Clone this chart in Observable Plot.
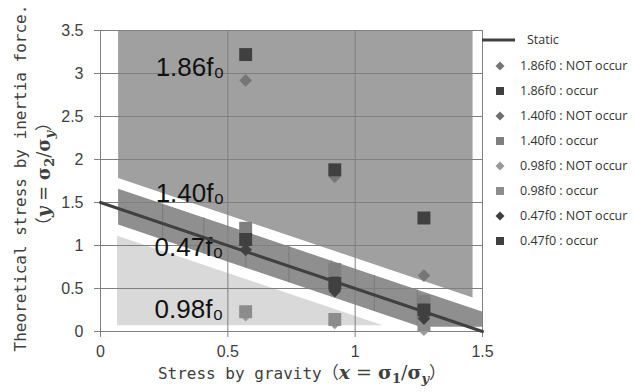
<!DOCTYPE html>
<html><head><meta charset="utf-8">
<script src="https://cdn.jsdelivr.net/npm/d3@7"></script>
<script src="https://cdn.jsdelivr.net/npm/@observablehq/plot@0.6"></script>
<style>
body{margin:0;background:#fff}
#chart{position:relative;width:635px;height:392px;overflow:hidden}
</style>
</head><body><div id="chart"></div>
<script>
// ---- data ----
const xTicks = [0, 0.5, 1, 1.5];
const yTicks = [0, 0.5, 1, 1.5, 2, 2.5, 3, 3.5];
const xPositions = [0.57, 0.92, 1.27];

const seriesNames = ["1.86f0 : NOT occur","1.86f0 : occur","1.40f0 : NOT occur","1.40f0 : occur",
                     "0.98f0 : NOT occur","0.98f0 : occur","0.47f0 : NOT occur","0.47f0 : occur"];
const seriesSymbols = ["diamond2","square","diamond2","square","diamond2","square","diamond2","square"];
const seriesColors = ["#767676","#404040","#6e6e6e","#7f7f7f","#9a9a9a","#8c8c8c","#404040","#404040"];
const f186NotOccur = [2.92, 1.80, 0.65];
const f186Occur    = [3.22, 1.88, 1.32];
const f140NotOccur = [1.12, 0.62, 0.28];
const f140Occur    = [1.20, 0.72, 0.35];
const f098NotOccur = [0.19, 0.10, 0.02];
const f098Occur    = [0.23, 0.14, 0.08];
const f047NotOccur = [0.95, 0.47, 0.15];
const f047Occur    = [1.07, 0.56, 0.25];
const seriesValues = [f186NotOccur, f186Occur, f140NotOccur, f140Occur, f098NotOccur, f098Occur, f047NotOccur, f047Occur];

const staticX = [0, 1.5];
const staticY = [1.5, 0];

// shaded regions (vertices)
const topRegionX = [0.071, 1.463];
const topRegionLow = [1.78, 0.39];
const topRegionHigh = [3.5, 3.5];
const bandX = [0.071, 1.258, 1.5];
const bandLow = [1.237, 0.05, 0.05];
const bandHigh = [1.655, 0.468, 0.226];
const lightX = [0.067, 1.11];
const lightLow = [0.066, 0.066];
const lightHigh = [1.109, 0.066];
const bandDividerX = [0.244, 0.406, 0.571, 0.740, 0.906, 1.075, 1.244];

const regionLabels = ["1.86f₀", "1.40f₀", "0.47f₀", "0.98f₀"];
const regionLabelX = [0.2165, 0.2165, 0.2125, 0.2125];
const regionLabelY = [3.07, 1.60, 0.98, 0.255];

// ---- build ----
const rows = (xs, lo, hi) => xs.map((x, i) => ({x, lo: lo[i], hi: hi[i]}));
const bandLowAt = d3.scaleLinear(bandX, bandLow);
const bandHighAt = d3.scaleLinear(bandX, bandHigh);

const pointMarks = seriesValues.map((vals, k) =>
  Plot.dot(xPositions.map((x, i) => ({x, y: vals[i]})), {
    x: "x", y: "y", symbol: seriesSymbols[k],
    r: seriesSymbols[k] === "square" ? 7.3 : 5.7,
    fill: seriesColors[k], stroke: "none"
  })
);

const tickFont = "Liberation Sans, Arial, sans-serif";
const plot = Plot.plot({
  width: 635, height: 392,
  marginLeft: 100, marginRight: 153, marginTop: 30, marginBottom: 61,
  x: {domain: [0, 1.5]},
  y: {domain: [0, 3.5]},
  style: {fontFamily: tickFont, fontSize: "16px", background: "#fff", color: "#404040"},
  marks: [
    Plot.areaY(rows(topRegionX, topRegionLow, topRegionHigh), {x: "x", y1: "lo", y2: "hi", fill: "#a0a0a0"}),
    Plot.areaY(rows(bandX, bandLow, bandHigh), {x: "x", y1: "lo", y2: "hi", fill: "#8f8f8f"}),
    Plot.areaY(rows(lightX, lightLow, lightHigh), {x: "x", y1: "lo", y2: "hi", fill: "#d9d9d9"}),
    Plot.ruleX(bandDividerX, {x: d => d, y1: d => bandLowAt(d), y2: d => bandHighAt(d), stroke: "#7a7a7a", strokeWidth: 1}),
    Plot.gridX(xTicks, {stroke: "#7f7f7f", strokeOpacity: 1}),
    Plot.gridY(yTicks, {stroke: "#7f7f7f", strokeOpacity: 1}),
    Plot.axisX(xTicks, {tickFormat: d => String(d), tickSize: 6, tickPadding: 8, stroke: "#7f7f7f", fill: "#404040", label: null, fontSize: 16}),
    Plot.axisY(yTicks, {tickFormat: d => String(d), tickSize: 6, tickPadding: 11, stroke: "#7f7f7f", fill: "#404040", label: null, fontSize: 16}),
    Plot.text(regionLabels.map((t, i) => ({t, x: regionLabelX[i], y: regionLabelY[i]})), {
      x: "x", y: "y", text: "t", textAnchor: "start", fontSize: 26, fill: "#111",
      fontFamily: "Liberation Sans, Arial, sans-serif"
    }),
    Plot.line(staticX.map((x, i) => ({x, y: staticY[i]})), {x: "x", y: "y", stroke: "#404040", strokeWidth: 3}),
    ...pointMarks
  ]
});
document.getElementById("chart").appendChild(plot);

// ---- axis titles ----
const svg = d3.select(plot);
const serif = "DejaVu Serif, Liberation Serif, serif";
const mono = "DejaVu Sans Mono, Liberation Mono, monospace";
function mathSpans(sel, v) {
  sel.append("tspan").text("（").style("font-family", "Noto Sans CJK JP").style("font-size", "17px");
  sel.append("tspan").text(v).style("font-family", serif).style("font-style", "italic").style("font-weight", "bold");
  sel.append("tspan").text(" = ").style("font-family", serif);
  sel.append("tspan").text("σ").style("font-family", serif).style("font-weight", "bold");
  sel.append("tspan").text(v === "x" ? "1" : "2").style("font-family", serif).style("font-weight", "bold").style("font-size", "13px").attr("dy", 4);
  sel.append("tspan").text("/").style("font-family", serif).attr("dy", -4);
  sel.append("tspan").text("σ").style("font-family", serif).style("font-weight", "bold");
  sel.append("tspan").text("y").style("font-family", serif).style("font-weight", "bold").style("font-style", "italic").style("font-size", "13px").attr("dy", 4);
  sel.append("tspan").text("）").style("font-family", "Noto Sans CJK JP").style("font-size", "17px").attr("dy", -4);
}
const xt = svg.append("text").attr("x", 302).attr("y", 379).attr("text-anchor", "middle")
  .attr("fill", "#404040").style("font-size", "19px");
xt.append("tspan").text("Stress by gravity").style("font-family", mono).style("font-size", "16px");
mathSpans(xt, "x");

svg.append("text").attr("transform", "translate(26,178) rotate(-90)").attr("text-anchor", "middle")
  .attr("fill", "#404040").style("font-family", mono).style("font-size", "16px")
  .text("Theoretical stress by inertia force.");
const yt2 = svg.append("text").attr("transform", "translate(50,174) rotate(-90)").attr("text-anchor", "middle")
  .attr("fill", "#404040").style("font-size", "18px");
mathSpans(yt2, "y");

// ---- legend ----
const lg = svg.append("g").style("font-family", "Open Sans, sans-serif").style("font-size", "12.5px").attr("text-anchor", "start");
lg.append("line").attr("x1", 482).attr("x2", 515).attr("y1", 40).attr("y2", 40).attr("stroke", "#404040").attr("stroke-width", 3);
lg.append("text").attr("x", 527).attr("y", 40).attr("dy", "0.35em").attr("text-anchor", "start").attr("fill", "#333").text("Static");
seriesNames.forEach((name, k) => {
  const cy = 66 + k * 25;
  const sq = seriesSymbols[k] === "square";
  lg.append("path").attr("transform", `translate(500,${cy})`)
    .attr("d", d3.symbol(sq ? d3.symbolSquare : d3.symbolDiamond2, sq ? 64 : 52)())
    .attr("fill", seriesColors[k]);
  lg.append("text").attr("x", 520).attr("y", cy).attr("dy", "0.35em").attr("text-anchor", "start").attr("fill", "#333").text(name);
});
</script>
</body></html>
